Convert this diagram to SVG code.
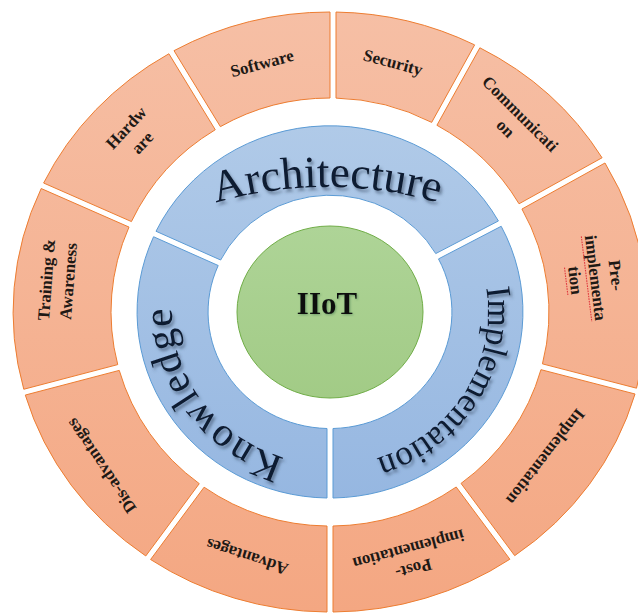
<svg xmlns="http://www.w3.org/2000/svg" width="638" height="613" viewBox="0 0 638 613">
<defs>
<linearGradient id="gOr" gradientUnits="userSpaceOnUse" x1="0" y1="12" x2="0" y2="612">
<stop offset="0" stop-color="#F6BFA5"/><stop offset="1" stop-color="#F4A782"/>
</linearGradient>
<linearGradient id="gBl" gradientUnits="userSpaceOnUse" x1="0" y1="126" x2="0" y2="498">
<stop offset="0" stop-color="#B0CAE8"/><stop offset="1" stop-color="#96B7E1"/>
</linearGradient>
<linearGradient id="gGr" gradientUnits="userSpaceOnUse" x1="0" y1="226" x2="0" y2="398">
<stop offset="0" stop-color="#AED497"/><stop offset="1" stop-color="#A2CB86"/>
</linearGradient>
<filter id="tsh" x="-20%" y="-30%" width="140%" height="160%">
<feGaussianBlur in="SourceAlpha" stdDeviation="1.4"/>
<feOffset dx="2" dy="2.5" result="b"/>
<feFlood flood-color="#34465e" flood-opacity="0.55"/>
<feComposite in2="b" operator="in"/>
<feMerge><feMergeNode/><feMergeNode in="SourceGraphic"/></feMerge>
</filter>
<filter id="gsh" x="-20%" y="-30%" width="140%" height="160%">
<feGaussianBlur in="SourceAlpha" stdDeviation="1"/>
<feOffset dx="1" dy="1" result="b"/>
<feFlood flood-color="#4a7a52" flood-opacity="0.6"/>
<feComposite in2="b" operator="in"/>
<feMerge><feMergeNode/><feMergeNode in="SourceGraphic"/></feMerge>
</filter>
<path id="pArch" d="M127,240.59 A400,400 0 0 1 527,240.59"/>
<path id="pImpl" d="M412.56,181.55 A158,153 0 0 1 464.71,391.94 A158,153 0 0 1 247.44,442.45"/>
<path id="pKnow" d="M420.62,436.52 A158,152 0 0 1 200.57,399.19 A158,152 0 0 1 239.38,187.48"/>
</defs>
<style>
.or{fill:url(#gOr);stroke:#ED7D31;stroke-width:1}
.bl{fill:url(#gBl);stroke:#5B9BD5;stroke-width:1}
.gr{fill:url(#gGr);stroke:#70AD47;stroke-width:1}
.lab{font-family:"Liberation Serif","Times New Roman",serif;font-weight:bold;font-size:17px;fill:#1e1915;text-anchor:middle}
.big{font-family:"Liberation Serif","Times New Roman",serif;fill:#0f1a30;filter:url(#tsh)}
.sq{fill:none;stroke:#E0393E;stroke-width:1.1;stroke-dasharray:1.6 1}
</style>
<rect width="638" height="613" fill="#FFFFFF"/>

<g id="outer-ring">
<g id="software">
<path class="or" d="M174,50.66 A317,300 0 0 1 330,12 L330,98 A219,214 0 0 0 220.38,126.64 Z"/>
<text class="lab" transform="translate(262,63) rotate(-15)"><tspan x="0" y="6">Software</tspan></text>
</g>
<g id="security">
<path class="or" d="M336,12.05 A317,300 0 0 1 474.64,44.89 L431.68,122.38 A219,214 0 0 0 336,98.1 Z"/>
<text class="lab" transform="translate(393,62) rotate(15)"><tspan x="0" y="6">Security</tspan></text>
</g>
<g id="communication">
<path class="or" d="M479.88,47.79 A317,300 0 0 1 602.09,157.75 L519.04,203.79 A219,214 0 0 0 436.92,125.28 Z"/>
<text class="lab" transform="translate(513,121) rotate(45)"><tspan x="0" y="-4.5">Communicati</tspan><tspan x="0" y="16">on</tspan></text>
</g>
<g id="pre-implementation">
<path class="or" d="M604.99,162.99 A317,300 0 0 1 636.52,388.19 L542.45,363.86 A219,214 0 0 0 521.94,209.03 Z"/>
<g transform="translate(595,278) rotate(83)">
<text class="lab"><tspan x="0" y="-15.5">Pre-</tspan><tspan x="0" y="5">implementa</tspan><tspan x="0" y="25.5">tion</tspan></text>
<path class="sq" d="M-43,8.5 H43"/>
<path class="sq" d="M-14,29 H14"/>
</g>
</g>
<g id="implementation-phase">
<path class="or" d="M635.02,393.99 A317,300 0 0 1 514.69,555.66 L461.03,483.41 A219,214 0 0 0 540.95,369.66 Z"/>
<text class="lab" transform="translate(546,457) rotate(128)"><tspan x="0" y="6">Implementation</tspan></text>
</g>
<g id="post-implementation">
<path class="or" d="M509.87,559.24 A317,300 0 0 1 333,612 L333,526 A219,214 0 0 0 456.21,486.99 Z"/>
<text class="lab" transform="translate(411,559) rotate(165)"><tspan x="0" y="-4.5">Post-</tspan><tspan x="0" y="15.5">implementation</tspan></text>
</g>
<g id="advantages">
<path class="or" d="M327,612 A317,300 0 0 1 150.59,559.52 L204.10,487.20 A219,214 0 0 0 327,526 Z"/>
<text class="lab" transform="translate(247,557) rotate(198)"><tspan x="0" y="6">Advantages</tspan></text>
</g>
<g id="dis-advantages">
<path class="or" d="M145.77,555.96 A317,300 0 0 1 25.29,395.05 L119.25,370.40 A219,214 0 0 0 199.28,483.64 Z"/>
<text class="lab" transform="translate(101,466) rotate(235.7)"><tspan x="0" y="6">Dis-advantages</tspan></text>
</g>
<g id="training-awareness">
<path class="or" d="M23.77,389.25 A317,300 0 0 1 41.20,188.53 L129.01,227.07 A219,214 0 0 0 117.73,364.60 Z"/>
<text class="lab" transform="translate(57.5,280.5) rotate(-85.6)"><tspan x="0" y="-5.5">Training &amp;</tspan><tspan x="0" y="16.5">Awareness</tspan></text>
</g>
<g id="hardware">
<path class="or" d="M43.62,183.03 A317,300 0 0 1 168.88,53.78 L215.26,129.76 A219,214 0 0 0 131.43,221.57 Z"/>
<text class="lab" transform="translate(134,135) rotate(-47)"><tspan x="0" y="-5">Hardw</tspan><tspan x="0" y="17">are</tspan></text>
</g>
</g>

<g id="middle-ring">
<g id="architecture">
<path class="bl" d="M156.01,231.26 A193,186 0 0 1 498.42,220.95 L435.72,253.59 A122,116.5 0 0 0 220.65,260.03 Z"/>
<text class="big" font-size="45"><textPath href="#pArch" startOffset="50%" text-anchor="middle">Architecture</textPath></text>
</g>
<g id="implementation">
<path class="bl" d="M501.20,226.27 A193,186 0 0 1 333,498 L333,428.5 A122,116.5 0 0 0 438.50,258.91 Z"/>
<text class="big" font-size="35"><textPath href="#pImpl" startOffset="50%" text-anchor="middle">Implementation</textPath></text>
</g>
<g id="knowledge">
<path class="bl" d="M327,498 A193,186 0 0 1 153.57,236.74 L218.21,265.51 A122,116.5 0 0 0 327,428.5 Z"/>
<text class="big" font-size="41" letter-spacing="1.5"><textPath href="#pKnow" startOffset="50%" text-anchor="middle">Knowledge</textPath></text>
</g>
</g>

<g id="iiot">
<ellipse class="gr" cx="330" cy="312" rx="93" ry="86"/>
<text x="327" y="314" font-family="'Liberation Serif','Times New Roman',serif" font-weight="bold" font-size="31" fill="#111" text-anchor="middle" filter="url(#gsh)">IIoT</text>
</g>

<g id="connectors"/>
</svg>
